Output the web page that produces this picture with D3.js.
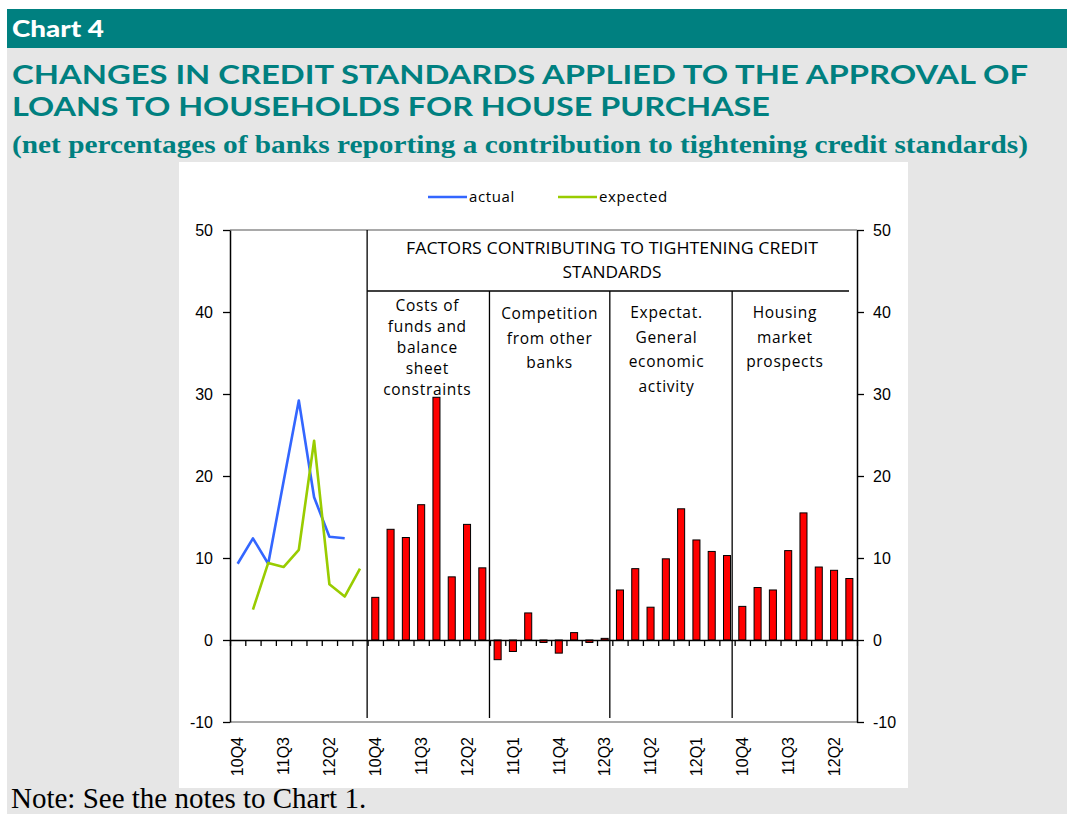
<!DOCTYPE html>
<html>
<head>
<meta charset="utf-8">
<script src="https://cdn.jsdelivr.net/npm/d3@7"></script>
<style>
  body { margin: 0; background: #ffffff; }
  svg { display: block; }
</style>
</head>
<body>
<svg id="chart" width="1067" height="814"></svg>
<script>
// ---- data -------------------------------------------------------------
const quarters = ["10Q4", "11Q1", "11Q2", "11Q3", "11Q4", "12Q1", "12Q2", "12Q3", "12Q4"];
const panelQuarters = quarters.slice(0, 8);
// one shared category axis: 9 quarters for the line panel, then 8 per factor panel
const categories = [].concat(quarters, panelQuarters, panelQuarters, panelQuarters, panelQuarters);

const actual   = [9.3, 12.4, 9.3, 19.3, 29.2, 17.4, 12.6, 12.4, null];
const expected = [null, 3.7, 9.4, 8.9, 11.0, 24.3, 6.8, 5.3, 8.7];

const costsOfFunds   = [5.2, 13.5, 12.5, 16.5, 29.6, 7.7, 14.1, 8.8];
const competition    = [-2.4, -1.4, 3.3, -0.3, -1.6, 0.9, -0.3, 0.2];
const expectations   = [6.1, 8.7, 4.0, 9.9, 16.0, 12.2, 10.8, 10.3];
const housingMarket  = [4.1, 6.4, 6.1, 10.9, 15.5, 8.9, 8.5, 7.5];

const factorLabels = [
  ["Costs of", "funds and", "balance", "sheet", "constraints"],
  ["Competition", "from other", "banks"],
  ["Expectat.", "General", "economic", "activity"],
  ["Housing", "market", "prospects"]
];
const yTicks = [-10, 0, 10, 20, 30, 40, 50];
const labelEvery = 3;

// ---- page -------------------------------------------------------------
const svg = d3.select("#chart");
const teal = "#008080";

svg.append("rect").attr("x", 7).attr("y", 48).attr("width", 1060).attr("height", 766).attr("fill", "#e6e6e6");
svg.append("rect").attr("x", 7).attr("y", 9).attr("width", 1060).attr("height", 39).attr("fill", teal);

svg.append("text").attr("x", 12).attr("y", 37)
  .attr("fill", "#ffffff").attr("font-family", "Lato, sans-serif").attr("font-weight", 900)
  .attr("font-size", 22).attr("textLength", 92).attr("lengthAdjust", "spacingAndGlyphs")
  .text("Chart 4");

const titleLines = [
  { t: "CHANGES IN CREDIT STANDARDS APPLIED TO THE APPROVAL OF", y: 84, w: 1016 },
  { t: "LOANS TO HOUSEHOLDS FOR HOUSE PURCHASE", y: 116, w: 758 }
];
svg.selectAll("text.title").data(titleLines).join("text")
  .attr("class", "title").attr("x", 12).attr("y", d => d.y)
  .attr("fill", teal).attr("font-family", "Lato, sans-serif").attr("font-weight", 700)
  .attr("font-size", 26).attr("textLength", d => d.w).attr("lengthAdjust", "spacingAndGlyphs")
  .text(d => d.t);

svg.append("text").attr("x", 12).attr("y", 153)
  .attr("fill", teal).attr("font-family", "'Liberation Serif', 'Times New Roman', serif").attr("font-weight", "bold")
  .attr("font-size", 26).attr("textLength", 1016).attr("lengthAdjust", "spacingAndGlyphs")
  .text("(net percentages of banks reporting a contribution to tightening credit standards)");

svg.append("text").attr("x", 11).attr("y", 807.5)
  .attr("fill", "#000").attr("font-family", "'Liberation Serif', 'Times New Roman', serif")
  .attr("font-size", 29)
  .text("Note: See the notes to Chart 1.");

// chart area
svg.append("rect").attr("x", 179).attr("y", 162).attr("width", 729).attr("height", 626).attr("fill", "#ffffff");

// ---- scales -----------------------------------------------------------
const left = 230, right = 857;
const x = d3.scaleBand().domain(d3.range(categories.length)).range([left, right]).padding(0);
const xEdge = d3.scaleLinear().domain([0, categories.length]).range([left, right]);
const y = d3.scaleLinear().domain([-10, 50]).range([722, 230]);
const cx = i => x(i) + x.bandwidth() / 2;

const g = svg.append("g");
const axisFont = "'Liberation Sans', Arial, sans-serif";
const textFont = "'Open Sans', Lato, sans-serif";

// plot area border (top / bottom)
g.append("line").attr("x1", left).attr("x2", right).attr("y1", y(50)).attr("y2", y(50))
  .attr("stroke", "#8c8c8c").attr("stroke-width", 1.5);
g.append("line").attr("x1", left).attr("x2", right).attr("y1", y(-10)).attr("y2", y(-10))
  .attr("stroke", "#8c8c8c").attr("stroke-width", 1.5);

// panel dividers and the header box of the factor panels
const panelStarts = [9, 17, 25, 33];
const boxBottom = 291;
g.selectAll("line.divider").data(panelStarts).join("line")
  .attr("class", "divider")
  .attr("x1", (d, i) => xEdge(d) - (i > 1 ? 2.5 : 0.5))
  .attr("x2", (d, i) => xEdge(d) - (i > 1 ? 2.5 : 0.5))
  .attr("y1", (d, i) => i === 0 ? y(50) : boxBottom)
  .attr("y2", 718)
  .attr("stroke", "#000").attr("stroke-width", 1.3);
g.append("line").attr("x1", xEdge(9) - 0.5).attr("x2", 849).attr("y1", boxBottom).attr("y2", boxBottom)
  .attr("stroke", "#000").attr("stroke-width", 1.3);

const headerCx = 612;
[["FACTORS CONTRIBUTING TO TIGHTENING CREDIT", 254, 412], ["STANDARDS", 278, 99]].forEach(([t, yy, w]) => {
  g.append("text").attr("x", headerCx).attr("y", yy).attr("text-anchor", "middle")
    .attr("font-family", textFont).attr("font-size", 16).attr("fill", "#000")
    .attr("textLength", w).attr("lengthAdjust", "spacingAndGlyphs").text(t);
});

// factor captions
const captionShift = [-1.5, -1.5, -7, -11];
const captionTop = [311, 319, 318, 318];
const captionStep = [21, 24.5, 24.5, 24.5];
factorLabels.forEach((lines, p) => {
  const a = xEdge(panelStarts[p]), b = xEdge(panelStarts[p] + 8);
  const mid = (a + b) / 2 + captionShift[p];
  g.selectAll(null).data(lines).join("text")
    .attr("x", mid).attr("y", (d, i) => captionTop[p] + i * captionStep[p])
    .attr("text-anchor", "middle").attr("font-family", textFont).attr("font-size", 15.5)
    .attr("letter-spacing", 0.7).attr("fill", "#000").text(d => d);
});

// bars
const series = [costsOfFunds, competition, expectations, housingMarket];
const barData = [];
series.forEach((vals, p) => vals.forEach((v, i) => barData.push({ idx: panelStarts[p] + i, v })));
const bw = x.bandwidth() * 0.46;
g.selectAll("rect.bar").data(barData).join("rect")
  .attr("class", "bar")
  .attr("x", d => cx(d.idx) - bw / 2)
  .attr("width", bw)
  .attr("y", d => y(Math.max(0, d.v)))
  .attr("height", d => Math.abs(y(d.v) - y(0)))
  .attr("fill", "#ff0000").attr("stroke", "#000").attr("stroke-width", 1);

// zero axis with category ticks
g.append("g").attr("transform", `translate(0,${y(0)})`)
  .call(d3.axisBottom(xEdge).tickValues(d3.range(0, categories.length + 1)).tickSize(6).tickSizeOuter(0).tickFormat(""))
  .call(s => s.selectAll("path, line").attr("stroke", "#000").attr("stroke-width", 1.3));

// lines
const line = d3.line().defined(d => d != null).x((d, i) => cx(i)).y(d => y(d));
g.append("path").datum(actual).attr("d", line).attr("fill", "none")
  .attr("stroke", "#3366ff").attr("stroke-width", 2.6).attr("stroke-linejoin", "round");
g.append("path").datum(expected).attr("d", line).attr("fill", "none")
  .attr("stroke", "#99cc00").attr("stroke-width", 2.6).attr("stroke-linejoin", "round");

// value axes
const fmt = d => String(d);
g.append("g").attr("transform", `translate(${left},0)`)
  .call(d3.axisLeft(y).tickValues(yTicks).tickSize(7).tickPadding(10).tickSizeOuter(0).tickFormat(fmt))
  .call(s => {
    s.select(".domain").attr("stroke", "#000").attr("stroke-width", 1.5);
    s.selectAll(".tick line").attr("stroke", "#000").attr("stroke-width", 1.3);
    s.selectAll("text").attr("font-family", axisFont).attr("font-size", 16).attr("fill", "#000");
  });
g.append("g").attr("transform", `translate(${right},0)`)
  .call(d3.axisRight(y).tickValues(yTicks).tickSize(7).tickPadding(9).tickSizeOuter(0).tickFormat(fmt))
  .call(s => {
    s.select(".domain").attr("stroke", "#000").attr("stroke-width", 1.5);
    s.selectAll(".tick line").attr("stroke", "#000").attr("stroke-width", 1.3);
    s.selectAll("text").attr("font-family", axisFont).attr("font-size", 16).attr("fill", "#000");
  });

// rotated quarter labels
const labelIdx = d3.range(0, categories.length, labelEvery);
g.selectAll("text.xlab").data(labelIdx).join("text")
  .attr("class", "xlab")
  .attr("transform", d => `translate(${cx(d)},737) rotate(-90)`)
  .attr("text-anchor", "end").attr("dy", "0.36em")
  .attr("font-family", axisFont).attr("font-size", 16).attr("fill", "#000")
  .text(d => categories[d]);

// legend
const legend = [{ name: "actual", color: "#3366ff", x: 428 }, { name: "expected", color: "#99cc00", x: 558 }];
const lg = g.selectAll("g.legend").data(legend).join("g").attr("class", "legend")
  .attr("transform", d => `translate(${d.x},197)`);
lg.append("line").attr("x1", 0).attr("x2", 39).attr("y1", 0).attr("y2", 0)
  .attr("stroke", d => d.color).attr("stroke-width", 2.6);
lg.append("text").attr("x", 41).attr("y", 5).attr("font-family", textFont).attr("font-size", 15)
  .attr("letter-spacing", 0.6).attr("fill", "#000").text(d => d.name);
</script>
</body>
</html>
